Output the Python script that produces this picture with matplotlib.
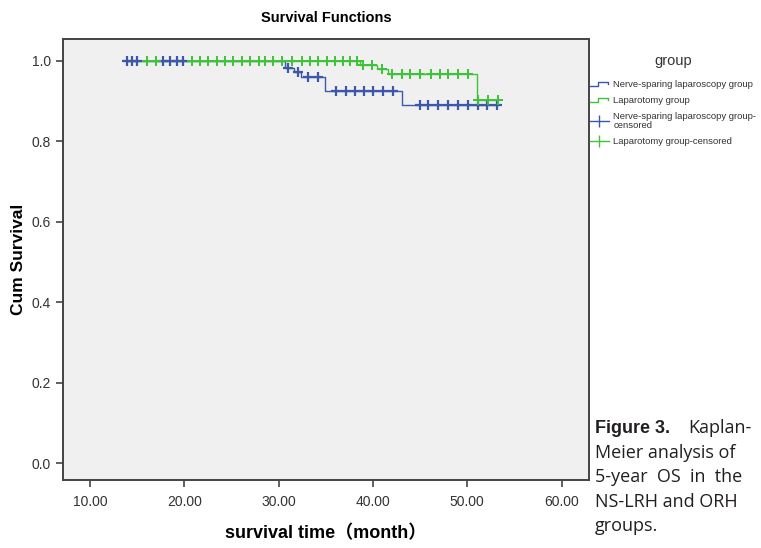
import numpy as np
import matplotlib
matplotlib.use("Agg")
import matplotlib.pyplot as plt
from matplotlib.lines import Line2D
from matplotlib.legend_handler import HandlerBase

plt.rcParams['font.family'] = ['Liberation Sans', 'Noto Sans CJK SC', 'DejaVu Sans']

# Kaplan-Meier steps (time in months, cumulative survival)
ns_times = [13.8, 30.7, 31.6, 32.4, 34.9, 43.1, 53.3]
ns_surv = [1.0, 0.983, 0.971, 0.959, 0.924, 0.891, 0.891]
lap_times = [13.8, 38.6, 40.4, 41.6, 51.0, 53.3]
lap_surv = [1.0, 0.990, 0.979, 0.967, 0.902, 0.902]

# censored observations
ns_cens = [13.9, 14.5, 15.0, 17.7, 18.5, 19.2, 19.9, 31.0, 32.0, 33.1, 34.2,
           36.1, 37.1, 38.1, 39.1, 40.0, 41.1, 42.1, 45.0, 45.8, 46.9, 47.9,
           49.0, 50.1, 51.1, 52.1, 53.2]
lap_cens = [16.0, 17.0, 20.8, 21.7, 22.5, 23.5, 24.3, 25.2, 26.1, 27.0, 27.9,
            28.6, 29.4, 30.4, 31.4, 32.5, 33.3, 34.2, 35.1, 36.0, 36.8, 37.6,
            38.3, 38.9, 39.9, 41.0, 42.0, 43.1, 43.9, 45.0, 46.1, 47.1, 48.0,
            49.0, 50.1, 51.1, 52.2, 53.3]

x_ticks = [10, 20, 30, 40, 50, 60]
y_ticks = [0.0, 0.2, 0.4, 0.6, 0.8, 1.0]

blue = '#3d58a8'
green = '#3ec237'


def surv_at(times, surv, t):
    idx = np.searchsorted(times, t, side='right') - 1
    return np.array(surv)[idx]


class HandlerStep(HandlerBase):
    # little step icon like the SPSS legend
    def create_artists(self, legend, orig_handle, xdescent, ydescent,
                       width, height, fontsize, trans):
        x0 = -xdescent
        y0 = -ydescent
        xs = [x0, x0 + 0.45 * width, x0 + 0.45 * width, x0 + 0.95 * width, x0 + 0.95 * width]
        ys = [y0 + 0.15 * height, y0 + 0.15 * height, y0 + 0.85 * height,
              y0 + 0.85 * height, y0 + 0.55 * height]
        ln = Line2D(xs, ys, color=orig_handle.get_color(), lw=1.0, transform=trans)
        return [ln]


fig = plt.figure(figsize=(7.61, 5.48), dpi=100)
ax = fig.add_axes([63 / 761, 1 - 480 / 548, (589 - 63) / 761, (480 - 39) / 548])
ax.set_facecolor('#f0f0f0')

ax.step(ns_times, ns_surv, where='post', color=blue, lw=1.0, zorder=2)
ax.step(lap_times, lap_surv, where='post', color=green, lw=1.0, zorder=2)
ax.plot(ns_cens, surv_at(ns_times, ns_surv, ns_cens), ls='none', marker='+',
        ms=7.5, mew=1.6, color=blue, zorder=3)
ax.plot(lap_cens, surv_at(lap_times, lap_surv, lap_cens), ls='none', marker='+',
        ms=7.5, mew=1.4, color=green, zorder=4)

ax.set_xlim(7.14, 62.9)
ax.set_ylim(-0.0415, 1.054)
ax.set_xticks(x_ticks)
ax.set_xticklabels(['%.2f' % v for v in x_ticks])
ax.set_yticks(y_ticks)
ax.set_yticklabels(['%.1f' % v for v in y_ticks])
ax.tick_params(direction='out', length=5, width=1.2, colors='#444444',
               labelsize=10, labelcolor='#333333')
ax.tick_params(axis='x', pad=6)
for sp in ax.spines.values():
    sp.set_color('#444444')
    sp.set_linewidth(1.4)

ax.set_title('Survival Functions', fontsize=10.5, fontweight='bold', pad=12)
ax.set_xlabel('survival time（month）', fontsize=13, fontweight='bold', labelpad=11)
ax.set_ylabel('Cum Survival', fontsize=12.5, fontweight='bold', labelpad=4)

# legend handles
h_ns = Line2D([], [], color=blue)
h_lap = Line2D([], [], color=green)
h_ns_c = Line2D([], [], color=blue, lw=1.0, marker='|', ms=9, mew=1.0)
h_lap_c = Line2D([], [], color=green, lw=1.0, marker='|', ms=9, mew=1.0)
leg = fig.legend([h_ns, h_lap, h_ns_c, h_lap_c],
                 ['Nerve-sparing laparoscopy group', 'Laparotomy group',
                  'Nerve-sparing laparoscopy group-\ncensored', 'Laparotomy group-censored'],
                 handler_map={h_ns: HandlerStep(), h_lap: HandlerStep()},
                 loc='upper left', bbox_to_anchor=(585 / 761, 1 - 49 / 548),
                 frameon=False, title='group', title_fontsize=10.5,
                 prop={'size': 6.8}, handlelength=2.0, handletextpad=0.5,
                 labelspacing=0.75, borderpad=0, numpoints=1)
leg._legend_box.sep = 9
for t in leg.get_texts():
    t.set_color('#333333')
    t.set_linespacing(0.95)
leg.get_title().set_color('#333333')

# caption from the article page
cap_x = 595 / 761
cap_font = ['Open Sans', 'DejaVu Sans']
fig.text(cap_x, 1 - 433 / 548, 'Figure 3.', fontsize=13, fontweight='bold',
         color='#231f20', va='baseline')
fig.text(688 / 761, 1 - 433 / 548, 'Kaplan-', fontsize=13, color='#231f20',
         va='baseline', family=cap_font)
cap_lines = ['Meier analysis of', '5-year  OS  in  the', 'NS-LRH and ORH', 'groups.']
for i, line in enumerate(cap_lines):
    fig.text(cap_x, 1 - (458 + 24.3 * i) / 548, line, fontsize=13,
             color='#231f20', va='baseline', family=cap_font)

fig.savefig('out.png', dpi=100)
